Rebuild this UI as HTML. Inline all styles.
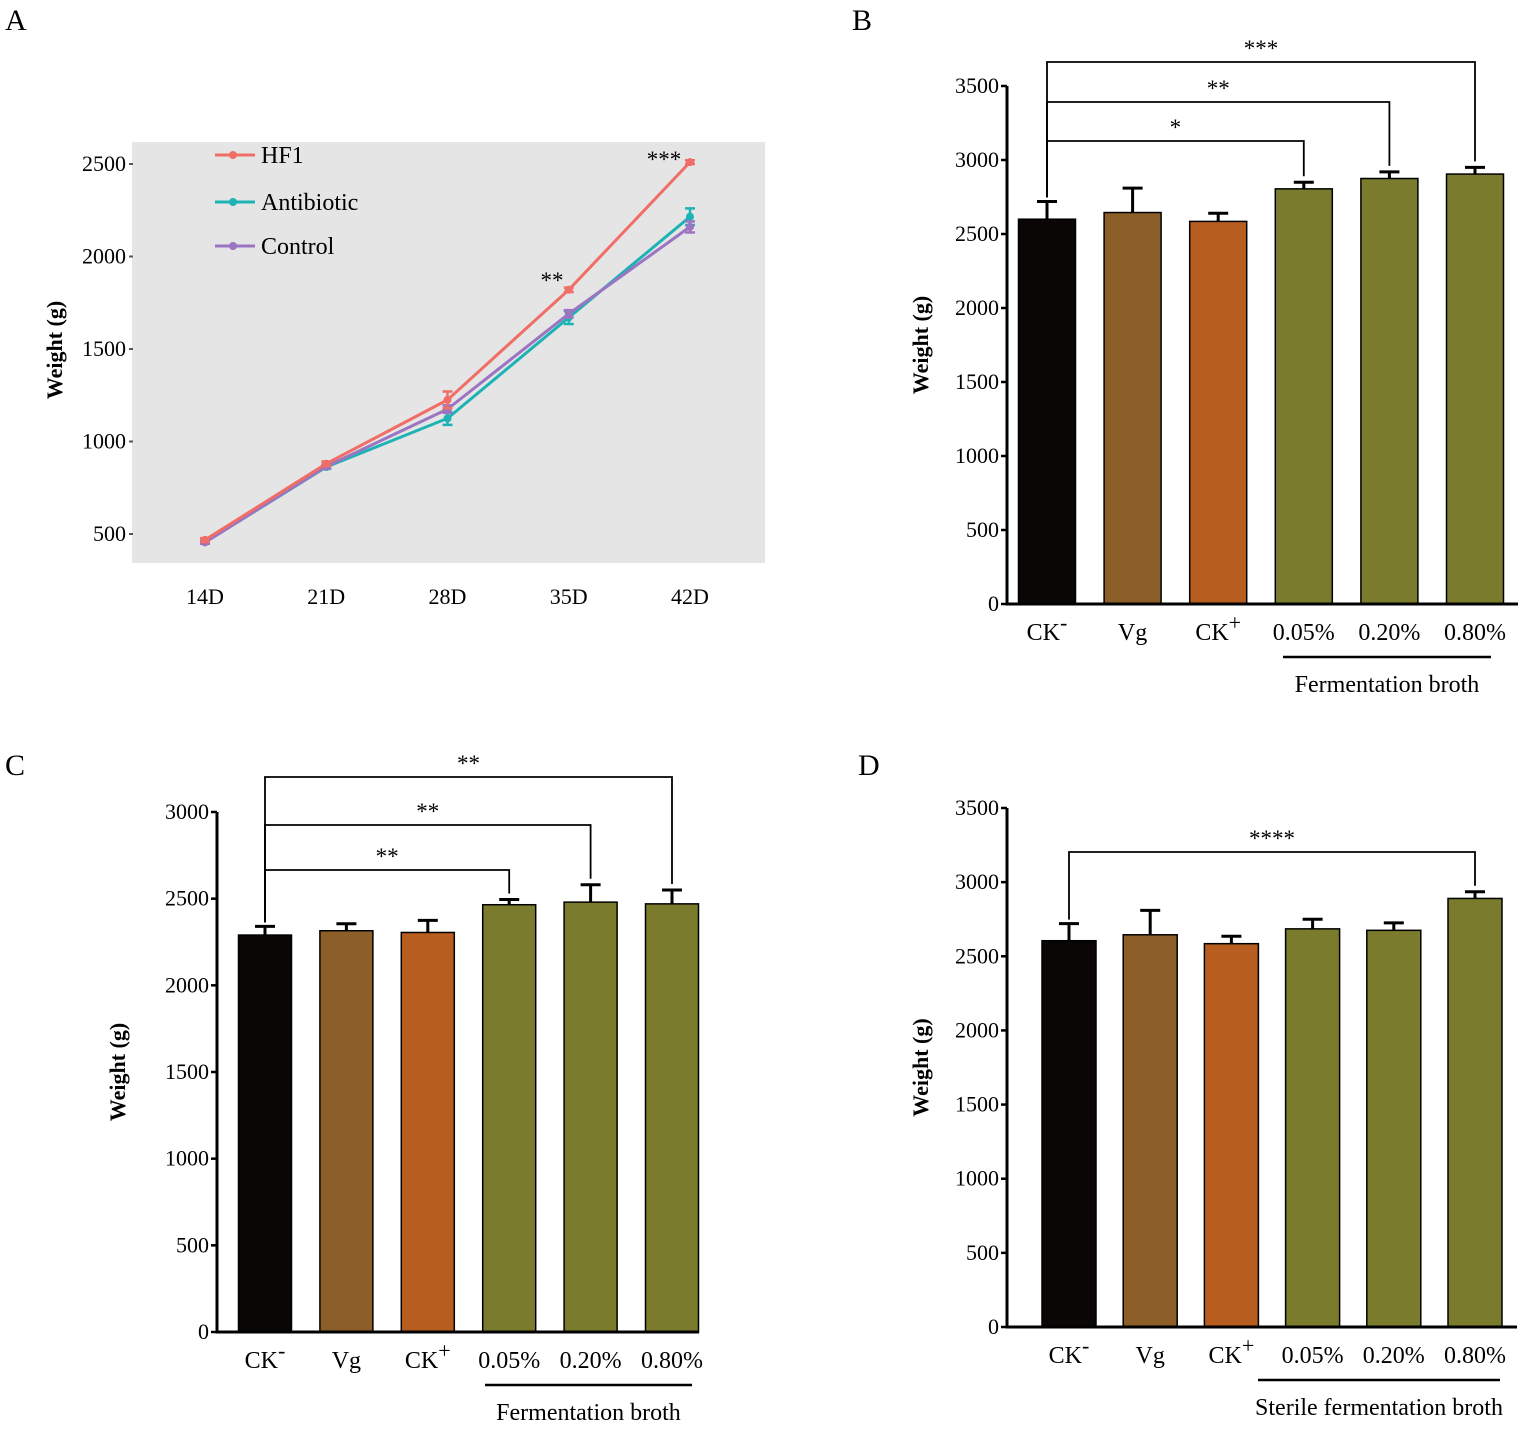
<!DOCTYPE html>
<html><head><meta charset="utf-8"><style>
body{margin:0;background:#fff;}
svg{display:block;font-family:"Liberation Serif",serif;}
</style></head><body>
<svg id="s" width="1535" height="1437" viewBox="0 0 1535 1437" xmlns="http://www.w3.org/2000/svg">
<text x="5" y="30" font-size="30">A</text>
<text x="852" y="30" font-size="30">B</text>
<text x="5" y="775" font-size="30">C</text>
<text x="858" y="775" font-size="30">D</text>
</svg>
<script>
const days=["14D","21D","28D","35D","42D"];
const hf1=[468,880,1225,1820,2510];
const hf1Err=[10,12,45,12,10];
const antibiotic=[455,862,1125,1670,2215];
const antibioticErr=[8,10,35,35,45];
const control=[455,865,1175,1690,2160];
const controlErr=[8,10,20,20,30];
const aTicks=[500,1000,1500,2000,2500];
const groups=["CK","Vg","CK","0.05%","0.20%","0.80%"];
const bVals=[2600,2645,2585,2805,2875,2905];
const bErr=[120,165,55,45,45,45];
const cVals=[2290,2315,2305,2465,2480,2470];
const cErr=[50,40,70,30,100,80];
const dVals=[2605,2645,2585,2685,2675,2890];
const dErr=[115,165,50,65,50,45];
const b35Ticks=[0,500,1000,1500,2000,2500,3000,3500];
const c30Ticks=[0,500,1000,1500,2000,2500,3000];
const barColors=["#0b0606","#8d5f28","#b85d20","#7b7b2e","#7b7b2e","#7b7b2e"];

const S=document.getElementById('s');const NS="http://www.w3.org/2000/svg";
function el(t,a,txt,parent){const e=document.createElementNS(NS,t);for(const k in a)e.setAttribute(k,a[k]);if(txt!==undefined)e.textContent=txt;(parent||S).appendChild(e);return e;}

// Panel A
(function(){
const y=v=>534-(v-500)*0.185;
const x=i=>205+i*121.25;
const r=el('rect',{x:132,y:142,width:633,height:421,fill:'#e5e5e5'});

aTicks.forEach(t=>{const tx=el('text',{x:126,y:y(t)+7,'font-size':22,'text-anchor':'end'},String(t));

const tk=el('line',{x1:129,x2:133,y1:y(t),y2:y(t),stroke:'#555','stroke-width':2});
});
days.forEach((d,i)=>{const tx=el('text',{x:x(i),y:604,'font-size':22,'text-anchor':'middle'},d);
});
const yt=el('text',{x:0,y:0,'font-size':22,'font-weight':'bold','text-anchor':'middle',transform:'translate(62,350) rotate(-90)'},'Weight (g)');

const series=[[antibiotic,antibioticErr,'#1db3b5','antibiotic'],[control,controlErr,'#9b74c2','control'],[hf1,hf1Err,'#f06e66','hf1']];
series.forEach(([v,e,c,n])=>{
 const p=el('polyline',{points:v.map((d,i)=>x(i)+','+y(d)).join(' '),fill:'none',stroke:c,'stroke-width':3});
 
 v.forEach((d,i)=>{
  const eb=el('path',{d:`M${x(i)},${y(d+e[i])}V${y(d-e[i])}M${x(i)-5},${y(d+e[i])}h10M${x(i)-5},${y(d-e[i])}h10`,stroke:c,'stroke-width':2.5,fill:'none'});
  
  const pt=el('circle',{cx:x(i),cy:y(d),r:4,fill:c});
  
 });
});
[['HF1','#f06e66',155],['Antibiotic','#1db3b5',202],['Control','#9b74c2',246]].forEach(([t,c,yy])=>{
 const l=el('line',{x1:215,x2:255,y1:yy,y2:yy,stroke:c,'stroke-width':3});
 
 const d=el('circle',{cx:233,cy:yy,r:4,fill:c});
 
 const tx=el('text',{x:261,y:yy+8,'font-size':24},t);
 
});
const s1=el('text',{x:552,y:288,'font-size':23,'text-anchor':'middle'},'**');

const s2=el('text',{x:664,y:167,'font-size':23,'text-anchor':'middle'},'***');

})();

function barPanel(o){
const y=v=>o.y0-v*o.k;
o.ticks.forEach(t=>{const tx=el('text',{x:o.ax-8,y:y(t)+7,'font-size':22,'text-anchor':'end'},String(t));

const tk=el('line',{x1:o.ax-6,x2:o.ax,y1:y(t),y2:y(t),stroke:'#000','stroke-width':2.5});
});
const yt=el('text',{x:0,y:0,'font-size':22,'font-weight':'bold','text-anchor':'middle',transform:`translate(${o.tx},${(o.y0+y(o.ticks[o.ticks.length-1]))/2}) rotate(-90)`},'Weight (g)');

o.vals.forEach((v,i)=>{const cx=o.c0+i*o.step;
 const eb=el('path',{d:`M${cx},${y(v)}V${y(v+o.err[i])}M${cx-10},${y(v+o.err[i])}h20`,stroke:'#000','stroke-width':3,fill:'none'});
 
 const b=el('rect',{x:cx-o.w/2,y:y(v),width:o.w,height:o.y0-y(v),fill:barColors[i],stroke:'#000','stroke-width':1.5});
 
 const lb=el('text',{x:cx,y:o.y0+36,'font-size':24,'text-anchor':'middle'},groups[i]);
 
 if(i===0||i===2){el('tspan',{dy:-10,'font-size':22},i===0?'-':'+',lb);}
});
const ax=el('path',{d:`M${o.ax},${y(o.ticks[o.ticks.length-1])}V${o.y0}H${o.xe}`,stroke:'#000','stroke-width':3,fill:'none'});

o.br.forEach(([j,ly,st])=>{const x0=o.c0,x1=o.c0+j*o.step;
 const p=el('path',{d:`M${x0},${y(o.vals[0]+o.err[0])-4}V${ly}H${x1}V${y(o.vals[j]+o.err[j])-6}`,stroke:'#000','stroke-width':1.8,fill:'none'});
 
 const s=el('text',{x:(x0+x1)/2,y:ly-6,'font-size':23,'text-anchor':'middle'},st);
 
});
const ul=el('line',{x1:o.u[0],x2:o.u[1],y1:o.y0+53,y2:o.y0+53,stroke:'#000','stroke-width':2.5});

const gl=el('text',{x:(o.u[0]+o.u[1])/2,y:o.y0+88,'font-size':24,'text-anchor':'middle'},o.glabel);

}
barPanel({id:'b',y0:604,k:518/3500,ax:1007,xe:1518,c0:1047,step:85.6,w:57,vals:bVals,err:bErr,ticks:b35Ticks,tx:928,
 br:[[3,141,'*'],[4,102,'**'],[5,62,'***']],u:[1283,1491],glabel:'Fermentation broth'});
barPanel({id:'c',y0:1332,k:520/3000,ax:217,xe:699,c0:265,step:81.4,w:53,vals:cVals,err:cErr,ticks:c30Ticks,tx:125,
 br:[[3,870,'**'],[4,825,'**'],[5,777,'**']],u:[485,692],glabel:'Fermentation broth'});
barPanel({id:'d',y0:1327,k:519/3500,ax:1007,xe:1517,c0:1069,step:81.2,w:54,vals:dVals,err:dErr,ticks:b35Ticks,tx:928,
 br:[[5,852,'****']],u:[1258,1500],glabel:'Sterile fermentation broth'});
</script>
</body></html>
